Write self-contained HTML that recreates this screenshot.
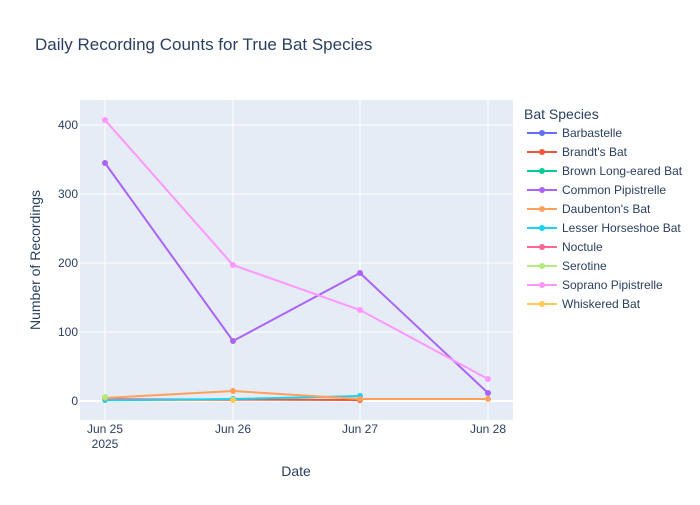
<!DOCTYPE html>
<html><head><meta charset="utf-8"><style>
body{margin:0;background:#fff}
svg text{font-family:"Liberation Sans",Arial,sans-serif}
</style></head><body>
<svg width="700" height="500" xmlns="http://www.w3.org/2000/svg">
<rect width="700" height="500" fill="#fff"/>
<text x="35" y="50" font-size="17" fill="#2a3f5f">Daily Recording Counts for True Bat Species</text>
<rect x="80" y="100" width="433" height="320" fill="#e5ecf6"/>
<g stroke="#fff" stroke-width="1">
<line x1="105" y1="100" x2="105" y2="420"/><line x1="233" y1="100" x2="233" y2="420"/>
<line x1="360" y1="100" x2="360" y2="420"/><line x1="488" y1="100" x2="488" y2="420"/>
<line x1="80" y1="125" x2="513" y2="125"/><line x1="80" y1="194" x2="513" y2="194"/>
<line x1="80" y1="263" x2="513" y2="263"/><line x1="80" y1="332" x2="513" y2="332"/>
</g>
<line x1="80" y1="401" x2="513" y2="401" stroke="#fff" stroke-width="2"/>
<g font-size="12" fill="#2a3f5f" text-anchor="end">
<text x="78" y="129">400</text><text x="78" y="198">300</text><text x="78" y="267">200</text><text x="78" y="336">100</text><text x="78" y="405">0</text>
</g>
<g font-size="12" fill="#2a3f5f" text-anchor="middle">
<text x="105" y="433">Jun 25</text><text x="105" y="448">2025</text>
<text x="233" y="433">Jun 26</text><text x="360" y="433">Jun 27</text><text x="488" y="433">Jun 28</text>
<text x="296" y="476" font-size="14">Date</text>
</g>
<text transform="translate(40,260) rotate(-90)" font-size="14" fill="#2a3f5f" text-anchor="middle">Number of Recordings</text>
<g stroke-width="2" fill="none">
<polyline stroke="#fecb52" points="105,400 233,400"/>
<polyline stroke="#ef553b" points="105,399.6 233,399.6 360,400"/>
<polyline stroke="#ff6692" points="105,399 233,399.6"/>
<polyline stroke="#19d3f3" points="105,400.3 233,399 360,396"/>
<polyline stroke="#ffa15a" points="105,398 233,391 360,399 488,399"/>
<polyline stroke="#ab63fa" points="105,163 233,341 360,273 488,393"/>
<polyline stroke="#ff97ff" points="105,120 233,265 360,310 488,379"/>
</g>
<g>
<circle cx="105" cy="400" r="3" fill="#19d3f3"/><circle cx="233" cy="399" r="3" fill="#19d3f3"/><circle cx="360" cy="396" r="3" fill="#19d3f3"/>
<circle cx="360" cy="400" r="3" fill="#ef553b"/>
<circle cx="105" cy="398" r="3" fill="#ffa15a"/><circle cx="233" cy="391" r="3" fill="#ffa15a"/><circle cx="360" cy="399" r="3" fill="#ffa15a"/><circle cx="488" cy="399" r="3" fill="#ffa15a"/>
<circle cx="105" cy="397" r="3" fill="#b6e880"/>
<circle cx="233" cy="400" r="3" fill="#fecb52"/>
<circle cx="105" cy="163" r="3" fill="#ab63fa"/><circle cx="233" cy="341" r="3" fill="#ab63fa"/><circle cx="360" cy="273" r="3" fill="#ab63fa"/><circle cx="488" cy="393" r="3" fill="#ab63fa"/>
<circle cx="105" cy="120" r="3" fill="#ff97ff"/><circle cx="233" cy="265" r="3" fill="#ff97ff"/><circle cx="360" cy="310" r="3" fill="#ff97ff"/><circle cx="488" cy="379" r="3" fill="#ff97ff"/>
</g>
<text x="524" y="119" font-size="14" fill="#2a3f5f">Bat Species</text>
<g font-size="12" fill="#2a3f5f">
<g transform="translate(0,133)"><line x1="527" x2="557" stroke="#636efa" stroke-width="2"/><circle cx="542" r="3" fill="#636efa"/><text x="562" y="4">Barbastelle</text></g>
<g transform="translate(0,152)"><line x1="527" x2="557" stroke="#ef553b" stroke-width="2"/><circle cx="542" r="3" fill="#ef553b"/><text x="562" y="4">Brandt's Bat</text></g>
<g transform="translate(0,171)"><line x1="527" x2="557" stroke="#00cc96" stroke-width="2"/><circle cx="542" r="3" fill="#00cc96"/><text x="562" y="4">Brown Long-eared Bat</text></g>
<g transform="translate(0,190)"><line x1="527" x2="557" stroke="#ab63fa" stroke-width="2"/><circle cx="542" r="3" fill="#ab63fa"/><text x="562" y="4">Common Pipistrelle</text></g>
<g transform="translate(0,209)"><line x1="527" x2="557" stroke="#ffa15a" stroke-width="2"/><circle cx="542" r="3" fill="#ffa15a"/><text x="562" y="4">Daubenton's Bat</text></g>
<g transform="translate(0,228)"><line x1="527" x2="557" stroke="#19d3f3" stroke-width="2"/><circle cx="542" r="3" fill="#19d3f3"/><text x="562" y="4">Lesser Horseshoe Bat</text></g>
<g transform="translate(0,247)"><line x1="527" x2="557" stroke="#ff6692" stroke-width="2"/><circle cx="542" r="3" fill="#ff6692"/><text x="562" y="4">Noctule</text></g>
<g transform="translate(0,266)"><line x1="527" x2="557" stroke="#b6e880" stroke-width="2"/><circle cx="542" r="3" fill="#b6e880"/><text x="562" y="4">Serotine</text></g>
<g transform="translate(0,285)"><line x1="527" x2="557" stroke="#ff97ff" stroke-width="2"/><circle cx="542" r="3" fill="#ff97ff"/><text x="562" y="4">Soprano Pipistrelle</text></g>
<g transform="translate(0,304)"><line x1="527" x2="557" stroke="#fecb52" stroke-width="2"/><circle cx="542" r="3" fill="#fecb52"/><text x="562" y="4">Whiskered Bat</text></g>
</g>
</svg>
</body></html>
